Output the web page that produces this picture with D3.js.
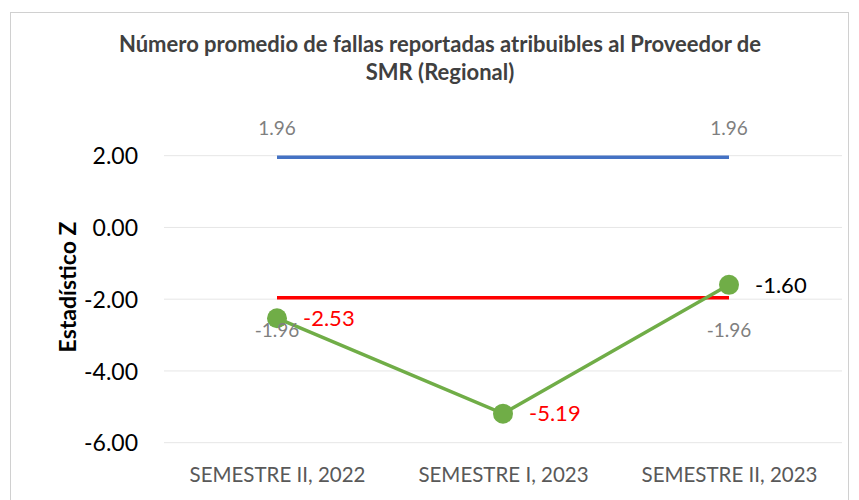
<!DOCTYPE html>
<html>
<head>
<meta charset="utf-8">
<script src="https://cdn.jsdelivr.net/npm/d3@7"></script>
<style>
  body { margin: 0; background: #fff; }
  text { font-family: Lato, "Open Sans", sans-serif; }
</style>
</head>
<body>
<div id="chart"></div>
<script>
var categories = ['SEMESTRE II, 2022', 'SEMESTRE I, 2023', 'SEMESTRE II, 2023'];
var upperLimit = [1.96, 1.96, 1.96];
var lowerLimit = [-1.96, -1.96, -1.96];
var zValues = [-2.53, -5.19, -1.60];
var zLabelColors = ['#ff0000', '#ff0000', '#000000'];
var yTicks = [2, 0, -2, -4, -6];
var titleLines = ['Número promedio de fallas reportadas atribuibles al Proveedor de', 'SMR (Regional)'];

var width = 859, height = 500;
var svg = d3.select('#chart').append('svg')
    .attr('width', width)
    .attr('height', height);

// chart border
svg.append('rect')
    .attr('x', 10.5).attr('y', 12.5)
    .attr('width', 838).attr('height', 500)
    .attr('fill', '#fff')
    .attr('stroke', '#d0d0d0')
    .attr('stroke-width', 1);

var x = d3.scalePoint()
    .domain(categories)
    .range([277, 729]);

var y = d3.scaleLinear()
    .domain([-6, 2])
    .range([442.7, 155.7]);

// plain hyphen for negatives, like the original
var fmt = d3.formatLocale({ decimal: '.', thousands: ',', grouping: [3], currency: ['', ''], minus: '-' }).format('.2f');

// title
svg.append('text')
    .attr('text-anchor', 'middle')
    .attr('font-weight', 'bold')
    .attr('font-size', 22)
    .attr('fill', '#404040')
    .selectAll('tspan')
    .data(titleLines)
    .enter().append('tspan')
    .attr('x', 440)
    .attr('y', function(d, i) { return 52 + i * 28; })
    .text(function(d) { return d; });

// gridlines
svg.append('g')
    .selectAll('line')
    .data(yTicks)
    .enter().append('line')
    .attr('x1', 164).attr('x2', 842)
    .attr('y1', function(d) { return y(d); })
    .attr('y2', function(d) { return y(d); })
    .attr('stroke', '#e6e6e6')
    .attr('stroke-width', 1);

// y axis labels
var yAxis = d3.axisLeft(y).tickValues(yTicks).tickFormat(fmt).tickSize(0).tickPadding(0);
var gy = svg.append('g')
    .attr('transform', 'translate(138,0)')
    .call(yAxis);
gy.select('.domain').remove();
gy.selectAll('text')
    .attr('font-family', 'Lato, sans-serif')
    .attr('font-size', 23)
    .attr('fill', '#000')
    .attr('dy', '0.35em');

// y axis title
svg.append('text')
    .attr('transform', 'translate(76,287) rotate(-90)')
    .attr('text-anchor', 'middle')
    .attr('font-weight', 'bold')
    .attr('font-size', 23)
    .attr('fill', '#000')
    .text('Estadístico Z');

// x axis labels
var xAxis = d3.axisBottom(x).tickSize(0).tickPadding(0);
var gx = svg.append('g')
    .attr('transform', 'translate(0,482)')
    .call(xAxis);
gx.select('.domain').remove();
gx.selectAll('text')
    .attr('font-family', 'Lato, sans-serif')
    .attr('font-size', 20.5)
    .attr('fill', '#595959')
    .attr('dy', 0);

var line = d3.line()
    .x(function(d, i) { return x(categories[i]); })
    .y(function(d) { return y(d); });

svg.append('path')
    .datum(upperLimit)
    .attr('d', line)
    .attr('fill', 'none')
    .attr('stroke', '#4472c4')
    .attr('stroke-width', 3.5);

svg.append('path')
    .datum(lowerLimit)
    .attr('d', line)
    .attr('fill', 'none')
    .attr('stroke', '#ff0000')
    .attr('stroke-width', 3.5);

svg.append('path')
    .datum(zValues)
    .attr('d', line)
    .attr('fill', 'none')
    .attr('stroke', '#70ad47')
    .attr('stroke-width', 3.5);

svg.append('g')
    .selectAll('circle')
    .data(zValues)
    .enter().append('circle')
    .attr('cx', function(d, i) { return x(categories[i]); })
    .attr('cy', function(d) { return y(d); })
    .attr('r', 10)
    .attr('fill', '#70ad47');

// limit labels (first and last point only)
svg.append('g')
    .selectAll('text')
    .data(upperLimit)
    .enter().append('text')
    .attr('x', function(d, i) { return x(categories[i]); })
    .attr('y', function(d) { return y(d) - 22; })
    .attr('text-anchor', 'middle')
    .attr('font-size', 19)
    .attr('fill', '#7f7f7f')
    .text(function(d, i) { return i === 1 ? '' : fmt(d); });

svg.append('g')
    .selectAll('text')
    .data(lowerLimit)
    .enter().append('text')
    .attr('x', function(d, i) { return x(categories[i]); })
    .attr('y', function(d) { return y(d) + 39; })
    .attr('text-anchor', 'middle')
    .attr('font-size', 19)
    .attr('fill', '#7f7f7f')
    .text(function(d, i) { return i === 1 ? '' : fmt(d); });

// z value labels
svg.append('g')
    .selectAll('text')
    .data(zValues)
    .enter().append('text')
    .attr('x', function(d, i) { return x(categories[i]) + 26; })
    .attr('y', function(d) { return y(d); })
    .attr('dy', '0.35em')
    .attr('font-size', 22)
    .attr('fill', function(d, i) { return zLabelColors[i]; })
    .text(fmt);
</script>
</body>
</html>
